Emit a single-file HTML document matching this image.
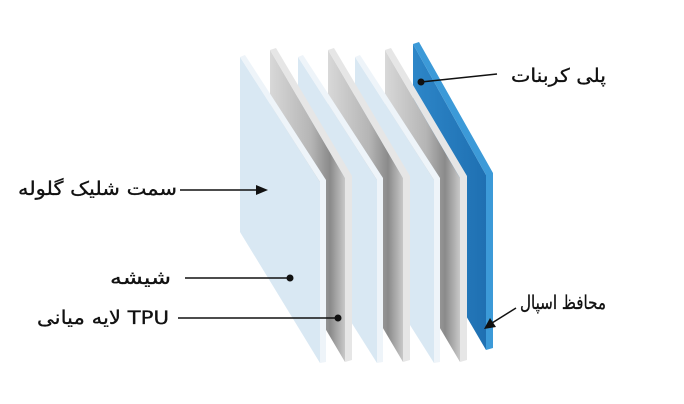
<!DOCTYPE html>
<html><head><meta charset="utf-8"><style>
html,body{margin:0;padding:0;background:#fff;width:684px;height:404px;overflow:hidden}
svg{display:block}
text{font-family:"DejaVu Sans","Liberation Sans",sans-serif;font-size:19px;fill:#111;stroke:#111;stroke-width:0.3;direction:rtl;unicode-bidi:embed}
</style></head><body>
<svg width="684" height="404" viewBox="0 0 684 404" xmlns="http://www.w3.org/2000/svg">
<defs>
<linearGradient id="gr" x1="0" y1="0" x2="1" y2="0">
<stop offset="0" stop-color="#d8d8d8"/><stop offset="0.55" stop-color="#b5b5b5"/><stop offset="0.8" stop-color="#8a8a8a"/><stop offset="1" stop-color="#c8c8c8"/>
</linearGradient>
<linearGradient id="bl" x1="0" y1="0" x2="1" y2="0">
<stop offset="0" stop-color="#2d86c8"/><stop offset="1" stop-color="#1f70b2"/>
</linearGradient>
</defs>
<polygon points="413,44 486,175 486,350 413,225" fill="url(#bl)"/>
<polygon points="413,44 419,42 493,173 493,348 486,350 486,175" fill="#3c9ad8"/>
<polygon points="385,50 460,178 460,362 385,235" fill="url(#gr)"/>
<polygon points="385,50 391,48 467,176 467,360 460,362 460,178" fill="#e6e6e6"/>
<polygon points="355,57 434,180 434,363 355,238" fill="#d9e8f3"/>
<polygon points="355,57 360,55 440,178 440,362 434,363 434,180" fill="#eef4f9"/>
<polygon points="328,50 403,178 403,362 328,235" fill="url(#gr)"/>
<polygon points="328,50 334,48 410,176 410,360 403,362 403,178" fill="#e6e6e6"/>
<polygon points="298,57 377,180 377,363 298,238" fill="#d9e8f3"/>
<polygon points="298,57 303,55 383,178 383,362 377,363 377,180" fill="#eef4f9"/>
<polygon points="270,50 345,178 345,362 270,235" fill="url(#gr)"/>
<polygon points="270,50 276,48 352,176 352,360 345,362 345,178" fill="#e6e6e6"/>
<polygon points="240,57 320,182 320,363 240,232" fill="#d9e8f3"/>
<polygon points="240,57 245,55 326,180 326,362 320,363 320,182" fill="#eef4f9"/>

<line x1="421" y1="82" x2="497" y2="74" stroke="#111" stroke-width="1.5"/>
<circle cx="421" cy="82" r="3.5" fill="#111"/>
<line x1="180" y1="190" x2="258" y2="190" stroke="#111" stroke-width="1.5"/>
<polygon points="268,190 256,185 256,195" fill="#111"/>
<line x1="185" y1="278" x2="290" y2="278" stroke="#111" stroke-width="1.5"/>
<circle cx="290" cy="278" r="3.5" fill="#111"/>
<line x1="178" y1="318" x2="338" y2="318" stroke="#111" stroke-width="1.5"/>
<circle cx="338" cy="318" r="3.5" fill="#111"/>
<line x1="516" y1="308" x2="492" y2="323" stroke="#111" stroke-width="1.5"/>
<polygon points="484,329 490,318 496,327" fill="#111"/>

<text x="606" y="82" text-anchor="start" textLength="95" lengthAdjust="spacingAndGlyphs">پلی کربنات</text>
<text x="177" y="195" text-anchor="start" textLength="159" lengthAdjust="spacingAndGlyphs">سمت شلیک گلوله</text>
<text x="171" y="284" text-anchor="start" textLength="61" lengthAdjust="spacingAndGlyphs">شیشه</text>
<text x="169" y="324" text-anchor="start" textLength="132" lengthAdjust="spacingAndGlyphs">TPU لایه میانی</text>
<text x="606" y="309" text-anchor="start" textLength="86" lengthAdjust="spacingAndGlyphs">محافظ اسپال</text>
</svg>
</body></html>
